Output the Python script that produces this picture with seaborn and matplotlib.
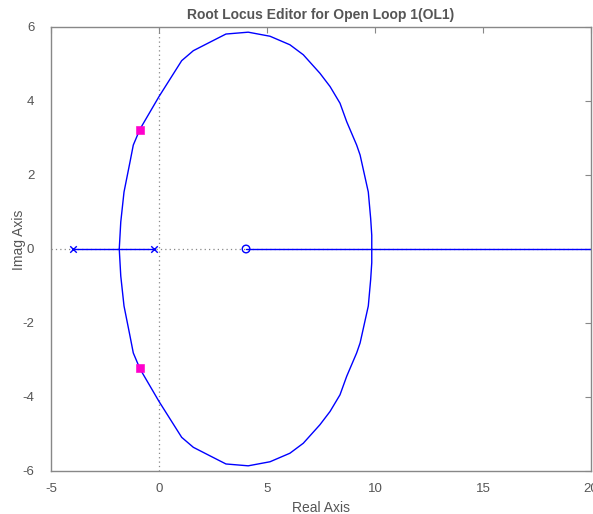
import matplotlib
matplotlib.use("Agg")
import matplotlib.pyplot as plt
import seaborn as sns
import numpy as np
import pandas as pd

# Upper branch of the complex locus
locus_re = [-1.84, -1.77, -1.62, -1.34, -1.19, -0.88, 0.0, 1.05, 1.59, 2.36, 3.10, 4.13,
            5.14, 6.06, 6.68, 7.45, 7.92, 8.38, 8.69, 9.15, 9.31, 9.69, 9.80, 9.85, 9.85]
locus_im = [0.0, 0.73, 1.54, 2.36, 2.81, 3.24, 4.12, 5.09, 5.36, 5.59, 5.81, 5.86,
            5.75, 5.52, 5.25, 4.75, 4.39, 3.94, 3.44, 2.81, 2.54, 1.54, 0.82, 0.37, 0.0]

# Real-axis locus segments
seg1_re = [-4.0, -0.23]
seg2_re = [4.03, 20.0]

poles_re = [-4.0, -0.23]
poles_im = [0.0, 0.0]
zeros_re = [4.03]
zeros_im = [0.0]
cl_re = [-0.88, -0.88]
cl_im = [3.22, -3.22]

xticks = [-5, 0, 5, 10, 15, 20]
yticks = [-6, -4, -2, 0, 2, 4, 6]

sns.set_style("white")
plt.rcParams['font.family'] = ['Liberation Sans', 'DejaVu Sans']

fig = plt.figure(figsize=(5.93, 5.14), dpi=100)
ax = fig.add_axes([51/593, 1-471/514, 540/593, 444/514])

blue = '#0000ff'
gray = '#555555'

# reference lines
ax.axhline(0, color='#888888', ls=(0, (1, 2.5)), lw=0.9, zorder=1)
ax.axvline(0, color='#888888', ls=(0, (1, 2.5)), lw=0.9, zorder=1)

up = pd.DataFrame({'re': locus_re, 'im': locus_im})
lo = pd.DataFrame({'re': locus_re, 'im': [-v for v in locus_im]})
sns.lineplot(data=up, x='re', y='im', sort=False, estimator=None, color=blue, lw=1.0, ax=ax, zorder=2)
sns.lineplot(data=lo, x='re', y='im', sort=False, estimator=None, color=blue, lw=1.0, ax=ax, zorder=2)
for seg in (seg1_re, seg2_re):
    sns.lineplot(x=seg, y=[0.0, 0.0], sort=False, estimator=None, color=blue, lw=1.0, ax=ax, zorder=2)

sns.scatterplot(x=poles_re, y=poles_im, marker='x', color=blue, s=22, linewidth=1.0, ax=ax, zorder=3)
ax.scatter(zeros_re, zeros_im, marker='o', facecolors='none', edgecolors=blue, s=30, linewidths=1.0, zorder=3)
sns.scatterplot(x=cl_re, y=cl_im, marker='s', color='#ff00cc', s=30, edgecolor='#ff00cc', ax=ax, zorder=4)

ax.set_xlim(-5, 20)
ax.set_ylim(-6, 6)
ax.set_xticks(xticks)
ax.set_yticks(yticks)
ax.set_xticklabels([str(t) for t in xticks])
ax.set_yticklabels([str(t) for t in yticks])
ax.tick_params(direction='in', length=4, width=0.8, colors='#888888', labelcolor=gray,
               labelsize=9.5, top=True, right=True)
ax.tick_params(axis='x', pad=9)
ax.tick_params(axis='y', pad=12)
for sp in ax.spines.values():
    sp.set_color('#888888')
    sp.set_linewidth(1.0)

ax.set_xlabel('Real Axis', fontsize=10, color=gray, labelpad=4)
ax.set_ylabel('Imag Axis', fontsize=10, color=gray)
ax.yaxis.set_label_coords(-0.046, 0.52)
ax.set_title('Root Locus Editor for Open Loop 1(OL1)', fontsize=10, fontweight='bold', color=gray, pad=6)

fig.savefig('out.png', dpi=100)
